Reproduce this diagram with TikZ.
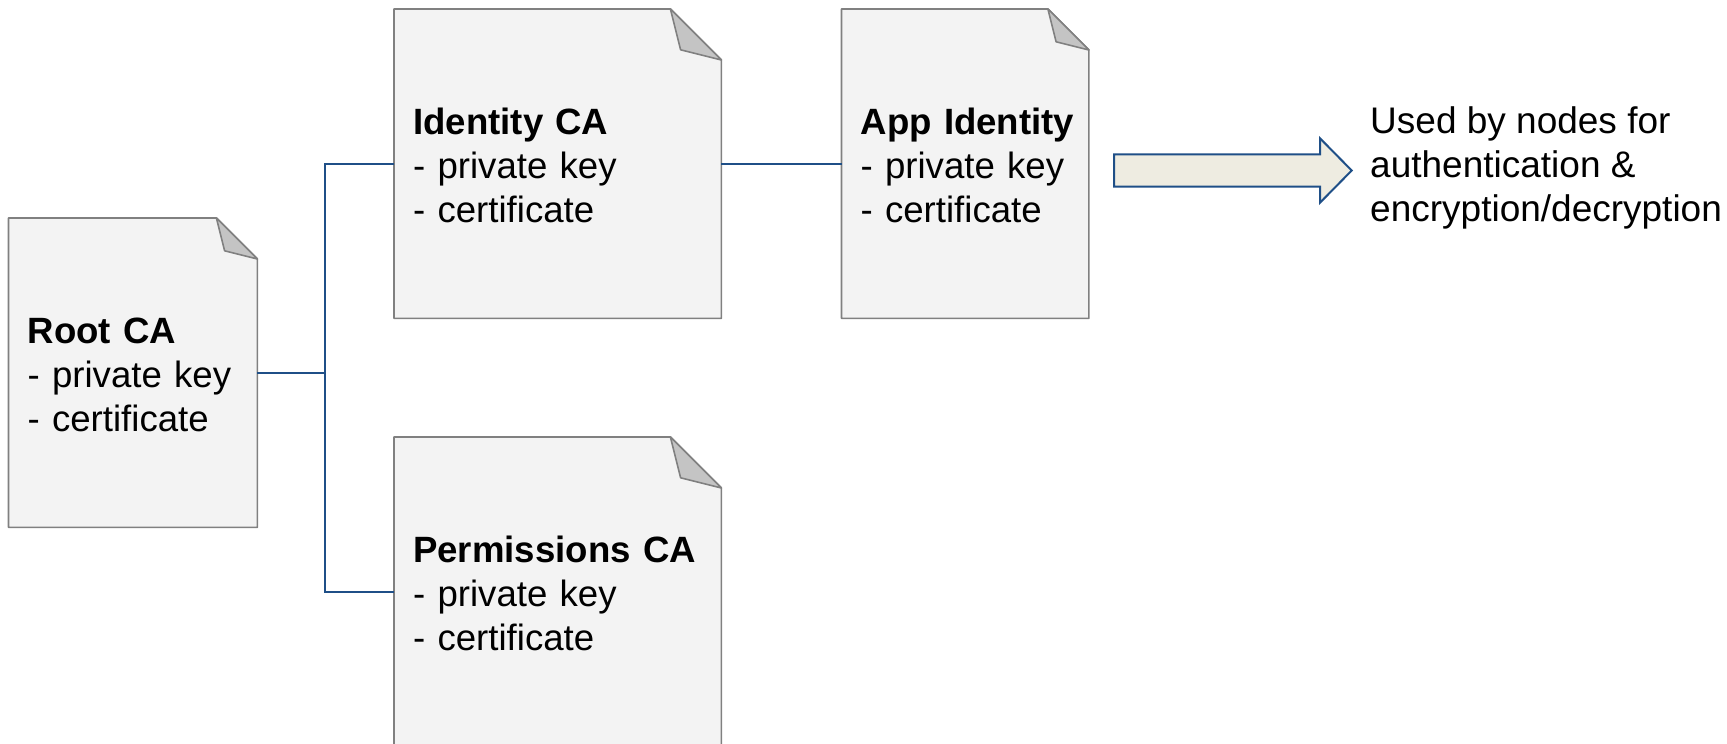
\documentclass[tikz,border=0pt]{standalone}
\usepackage{fontspec}
\setmainfont{Liberation Sans}
\usetikzlibrary{calc,backgrounds}

\definecolor{docfill}{HTML}{F3F3F3}
\definecolor{docline}{HTML}{808080}
\definecolor{foldfill}{HTML}{C4C4C4}
\definecolor{linkblue}{HTML}{1F4F87}
\definecolor{arrowfill}{HTML}{EEECE1}

\newcommand\docfont{\fontsize{36.6}{44}\selectfont}
\newcommand\notefont{\fontsize{37}{44}\selectfont}
\newcommand\docline[1]{\mbox{#1}}
% title line with a taller strut so the block sits a little lower
\newcommand\doctitle[1]{\mbox{\rule{0pt}{29.5pt}\textbf{#1}}}

% dog-eared sheet drawn behind a named node: #1 node name, #2 corner size
\newcommand\dogpage[2]{%
  \begin{pgfonlayer}{background}
    \filldraw[pageline, fill=docfill]
      (#1.north west) -- ($(#1.north east)+(-#2,0)$) -- ($(#1.north east)+(0,#2)$)
      -- (#1.south east) -- (#1.south west) -- cycle;
    \filldraw[pageline, fill=foldfill]
      ($(#1.north east)+(-#2,0)$) -- ($(#1.north east)+(-0.8*#2,0.8*#2)$)
      -- ($(#1.north east)+(0,#2)$) -- cycle;
  \end{pgfonlayer}}

\tikzset{
  pageline/.style={draw=docline, line width=1.6pt, line join=round},
  docbox/.style={anchor=north west, text width=#1, inner xsep=19pt, inner ysep=0pt,
    minimum height=309pt, align=left, font=\docfont, text=black},
  link/.style={draw=linkblue, line width=2pt},
  bigarrow/.style={draw=linkblue, line width=2pt, fill=arrowfill, line join=miter},
}

\begin{document}
\begin{tikzpicture}[x=1pt, y=-1pt]
  \useasboundingbox (0,0) rectangle (1727,744);

  % certificate sheets
  \node[docbox=210.5pt] (root)  at (8.5,218)
    {\doctitle{Root CA}\\\docline{- private key}\\\docline{- certificate}};
  \node[docbox=289pt]   (ident) at (394,9)
    {\doctitle{Identity CA}\\\docline{- private key}\\\docline{- certificate}};
  \node[docbox=209pt]   (app)   at (841.5,9)
    {\doctitle{App Identity}\\\docline{- private key}\\\docline{- certificate}};
  \node[docbox=289pt]   (perm)  at (394,437)
    {\doctitle{Permissions CA}\\\docline{- private key}\\\docline{- certificate}};

  \dogpage{root}{41}
  \dogpage{ident}{51}
  \dogpage{app}{41}
  \dogpage{perm}{51}

  % tree connectors
  \coordinate (bus) at (325,0);
  \draw[link] (root.east) -- (root.east -| bus);
  \draw[link] (ident.west) -- (ident.west -| bus) -- (perm.west -| bus) -- (perm.west);
  \draw[link] (ident.east) -- (app.west);

  % block arrow
  \filldraw[bigarrow] (1114,154.3) -- (1320,154.3) -- (1320,138.3) -- (1351.7,170.5)
    -- (1320,202.7) -- (1320,186.7) -- (1114,186.7) -- cycle;

  \node[anchor=west, inner sep=0pt, align=left, font=\notefont, text=black] (use) at (1370,168)
    {Used by nodes for\\authentication \&\\encryption/decryption};
\end{tikzpicture}
\end{document}
